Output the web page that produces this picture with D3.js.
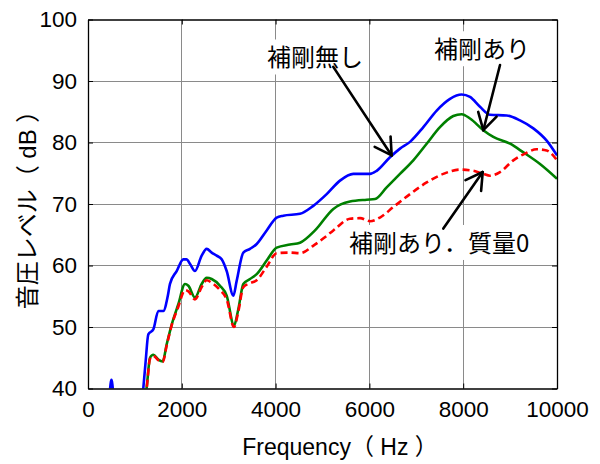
<!DOCTYPE html>
<html>
<head>
<meta charset="utf-8">
<script src="https://cdn.jsdelivr.net/npm/d3@7"></script>
<style>
  html, body { margin: 0; padding: 0; background: #fff; }
  svg { display: block; }
</style>
</head>
<body>
<script>
// Sound pressure level spectra (Hz, dB)
const freqBare = [0, 300, 440, 500, 560, 700, 1100, 1180, 1230, 1286, 1393, 1500, 1606, 1700, 1748, 1891, 2033, 2100, 2180, 2281, 2424, 2530, 2637, 2744, 2850, 2957, 3099, 3170, 3312, 3454, 3597, 3810, 4023, 4164, 4520, 4804, 5089, 5373, 5657, 6013, 6155, 6439, 6652, 6866, 7150, 7435, 7719, 7967, 8145, 8358, 8571, 8927, 9211, 9495, 9780, 10000];
const levelBare = [30, 32, 37.5, 41.4, 37.5, 33, 33, 40.1, 44.5, 48.8, 49.6, 52.6, 52.6, 55.0, 57.0, 59.1, 61.0, 61.0, 60.2, 59.1, 61.6, 62.7, 62.1, 61.6, 61.0, 59.1, 55.1, 57.5, 62.1, 62.7, 63.5, 65.7, 67.8, 68.1, 68.4, 69.7, 71.6, 73.8, 74.9, 74.9, 75.4, 77.6, 79.0, 80.1, 82.5, 85.2, 87.1, 87.8, 87.4, 85.8, 84.5, 84.4, 83.6, 82.3, 80.3, 77.9];

const freqStiff = [1150, 1250, 1322, 1393, 1500, 1592, 1678, 1785, 1926, 2068, 2140, 2281, 2424, 2530, 2637, 2815, 2957, 3113, 3205, 3312, 3454, 3597, 3810, 4023, 4307, 4520, 4840, 5231, 5586, 5942, 6119, 6368, 6652, 6936, 7221, 7505, 7789, 7967, 8145, 8429, 8642, 9000, 9282, 9638, 10000];
const levelStiff = [35, 40.1, 45.0, 45.5, 44.7, 44.4, 47.2, 50.4, 53.7, 57.0, 56.7, 54.8, 57.0, 58.0, 57.8, 56.7, 55.1, 50.2, 52.9, 57.0, 57.8, 58.6, 60.8, 62.9, 63.4, 63.7, 65.7, 69.2, 70.4, 70.7, 70.8, 72.7, 74.9, 77.1, 79.8, 82.5, 84.3, 84.6, 83.9, 82.0, 80.9, 79.8, 78.4, 76.5, 74.1];

const freqMassless = [1150, 1250, 1322, 1393, 1500, 1592, 1678, 1785, 1926, 2068, 2140, 2281, 2424, 2530, 2637, 2815, 2957, 3113, 3205, 3312, 3454, 3597, 3810, 4023, 4307, 4520, 4800, 5000, 5231, 5586, 5800, 6013, 6226, 6510, 6866, 7221, 7576, 7932, 8216, 8429, 8571, 8785, 9068, 9318, 9567, 9780, 10000];
const levelMassless = [35, 40.0, 44.8, 45.3, 44.6, 44.3, 47.0, 50.3, 53.3, 56.0, 55.8, 54.5, 56.5, 57.6, 57.2, 56.0, 54.5, 50.0, 52.5, 56.5, 57.1, 57.6, 59.8, 62.0, 62.1, 62.0, 63.2, 64.3, 65.7, 67.6, 67.7, 67.2, 67.8, 69.5, 71.6, 73.5, 74.9, 75.6, 75.4, 74.9, 74.6, 75.2, 77.1, 78.2, 78.9, 78.7, 77.1];

const xTicks = [0, 2000, 4000, 6000, 8000, 10000];
const yTicks = [40, 50, 60, 70, 80, 90, 100];

const xTitle = "Frequency（ Hz ）";
const yTitle = "音圧レベル（ dB ）";

// Callout labels: text anchor and arrow tail/tip in (Hz, dB)
const noteText = ["補剛無し", "補剛あり", "補剛あり．質量0"];
const noteAt = [[3817, 92.36], [7377, 93.7], [5565, 62.2]];
const arrowFrom = [[5230, 92.3], [8785, 92.6], [7576, 66.0]];
const arrowTo = [[6475, 77.9], [8429, 82.0], [8416, 75.2]];

const W = 600, H = 464;
const mLeft = 88, mRight = 557, mTop = 19.5, mBottom = 388.5;

const svg = d3.select("body").append("svg").attr("width", W).attr("height", H);
svg.append("rect").attr("width", W).attr("height", H).attr("fill", "#fff");

const x = d3.scaleLinear().domain([0, 10000]).range([mLeft, mRight]);
const y = d3.scaleLinear().domain([40, 100]).range([mBottom, mTop]);

// grid
const grid = svg.append("g").attr("stroke", "#8a8a8a").attr("stroke-width", 1).attr("shape-rendering", "crispEdges");
grid.selectAll("line.gx").data(xTicks.slice(1, -1)).join("line").attr("class", "gx")
  .attr("x1", d => x(d)).attr("x2", d => x(d)).attr("y1", mTop).attr("y2", mBottom);
grid.selectAll("line.gy").data(yTicks.slice(1, -1)).join("line").attr("class", "gy")
  .attr("x1", mLeft).attr("x2", mRight).attr("y1", d => y(d)).attr("y2", d => y(d));

// spectra
svg.append("clipPath").attr("id", "plot").append("rect")
  .attr("x", mLeft).attr("y", mTop).attr("width", mRight - mLeft).attr("height", mBottom - mTop);

const line = d3.line().x(d => x(d[0])).y(d => y(d[1])).curve(d3.curveMonotoneX);
const series = [
  { f: freqBare, v: levelBare, color: "#0000ff", dash: null },
  { f: freqStiff, v: levelStiff, color: "#008000", dash: null },
  { f: freqMassless, v: levelMassless, color: "#ff0000", dash: "7,4" }
];
const plot = svg.append("g").attr("clip-path", "url(#plot)");
series.forEach(s => {
  plot.append("path")
    .datum(s.f.map((f, i) => [f, s.v[i]]))
    .attr("d", line)
    .attr("fill", "none")
    .attr("stroke", s.color)
    .attr("stroke-width", 2.6)
    .attr("stroke-linejoin", "round")
    .attr("stroke-dasharray", s.dash);
});

// axes: inward ticks on all four sides, labels on bottom and left
const tickFont = "'Liberation Sans', Arial, sans-serif";
const axB = svg.append("g").attr("transform", `translate(0,${mBottom})`)
  .call(d3.axisBottom(x).tickValues(xTicks).tickSizeInner(-5).tickSizeOuter(0).tickPadding(13).tickFormat(d3.format("d")));
const axT = svg.append("g").attr("transform", `translate(0,${mTop})`)
  .call(d3.axisTop(x).tickValues(xTicks).tickSizeInner(-5).tickSizeOuter(0).tickFormat(""));
const axL = svg.append("g").attr("transform", `translate(${mLeft},0)`)
  .call(d3.axisLeft(y).tickValues(yTicks).tickSizeInner(-5).tickSizeOuter(0).tickPadding(11).tickFormat(d3.format("d")));
const axR = svg.append("g").attr("transform", `translate(${mRight},0)`)
  .call(d3.axisRight(y).tickValues(yTicks).tickSizeInner(-5).tickSizeOuter(0).tickFormat(""));
[axB, axT, axL, axR].forEach(g => {
  g.selectAll("path.domain").attr("stroke", "#000").attr("stroke-width", 1.3);
  g.selectAll(".tick line").attr("stroke", "#000").attr("stroke-width", 1);
  g.selectAll("text").attr("font-family", tickFont).attr("font-size", 22.5).attr("fill", "#000");
});

// axis titles
const titleFont = "'Liberation Sans', Arial, 'Noto Sans CJK JP', sans-serif";
svg.append("text")
  .attr("x", 340).attr("y", 455)
  .attr("text-anchor", "middle")
  .attr("font-family", titleFont).attr("font-size", 23)
  .text(xTitle);
svg.append("text")
  .attr("transform", `translate(27.5,${(mTop + mBottom) / 2}) rotate(-90)`)
  .attr("text-anchor", "middle").attr("dominant-baseline", "central")
  .attr("font-family", titleFont).attr("font-size", 24)
  .text(yTitle);

// callouts
const notes = svg.append("g");
noteText.forEach((t, i) => {
  const g = notes.append("g");
  const txt = g.append("text")
    .attr("x", x(noteAt[i][0])).attr("y", y(noteAt[i][1]))
    .attr("font-family", "'Noto Sans CJK JP', sans-serif")
    .attr("font-size", 24).attr("fill", "#000")
    .text(t);
  const b = txt.node().getBBox();
  g.insert("rect", "text")
    .attr("x", b.x - 4).attr("y", b.y + 1)
    .attr("width", b.width + 8).attr("height", b.height)
    .attr("fill", "#fff");
});

const headLen = 19, headAng = Math.PI / 6;
arrowFrom.forEach((a, i) => {
  const x0 = x(a[0]), y0 = y(a[1]);
  const x1 = x(arrowTo[i][0]), y1 = y(arrowTo[i][1]);
  const ang = Math.atan2(y0 - y1, x0 - x1);
  const g = notes.append("g").attr("stroke", "#000").attr("stroke-width", 2.6)
    .attr("stroke-linecap", "round").attr("fill", "none");
  g.append("line").attr("x1", x0).attr("y1", y0).attr("x2", x1).attr("y2", y1);
  [-headAng, headAng].forEach(da => {
    g.append("line").attr("x1", x1).attr("y1", y1)
      .attr("x2", x1 + headLen * Math.cos(ang + da))
      .attr("y2", y1 + headLen * Math.sin(ang + da));
  });
});
</script>
</body>
</html>
